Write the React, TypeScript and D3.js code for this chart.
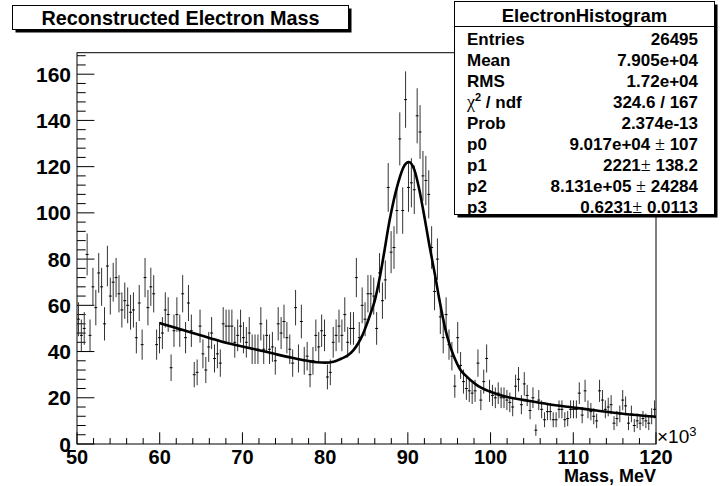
import React from "react";
import * as d3 from "d3";

// ---- data ----
const histLow = 50; // x10^3 MeV
const histBinWidth = 0.35;
const binContents: number[] = [
  54, 47, 50, 82, 47, 68, 59, 74, 68, 52,
  77, 64, 70, 72, 65, 58, 62, 60, 57, 58,
  46, 61, 43, 72, 59, 68, 65, 43, 46, 48,
  58, 56, 33, 49, 56, 49, 65, 46, 61, 49,
  30, 31, 51, 39, 32, 42, 48, 37, 39, 35,
  52, 51, 51, 51, 44, 47, 51, 46, 44, 48,
  41, 41, 41, 52, 41, 47, 41, 42, 36, 52,
  48, 53, 46, 41, 35, 59, 37, 53, 36, 38,
  30, 36, 47, 42, 49, 47, 29, 31, 44, 47,
  51, 47, 56, 44, 50, 50, 72, 46, 60, 54,
  65, 65, 64, 50, 74, 62, 71, 111, 83, 85,
  101, 132, 101, 149, 111, 113, 110, 142, 135, 116,
  114, 108, 85, 66, 80, 55, 46, 56, 43, 38,
  25, 46, 34, 27, 24, 23, 22, 23, 35, 19,
  27, 37, 23, 21, 20, 22, 20, 20, 19, 18,
  16, 25, 28, 17, 26, 21, 14.5, 20, 6, 19,
  15, 10.5, 14, 14, 10.5, 10.5, 15, 15, 10.5, 11,
  15, 15, 15, 22, 12.5, 23, 15, 14, 12, 10,
  23, 19, 15, 16, 17, 9, 11, 13, 19, 16.5,
  9, 13, 8, 10, 9, 11, 10, 9, 12, 15,
];

const fitX: number[] = [
  60.0, 62, 64, 66, 68, 70, 72, 74, 76, 78, 79, 80, 81, 82, 82.8, 83.4, 84.0,
  84.5, 85.0, 85.5, 86.0, 86.6, 87.0, 87.8, 88.8, 89.6, 90.1, 90.8, 91.4, 92.0,
  92.6, 93.25, 93.86, 94.46, 95.0, 95.5, 96.35, 96.9, 98.3, 99.9, 102, 103.9,
  107, 110, 113, 116, 120,
];
const fitY: number[] = [
  52.3, 50.2, 48.0, 45.9, 43.8, 42.2, 40.6, 38.9, 37.3, 35.9, 35.4, 35.2, 35.6,
  37.0, 38.5, 40.5, 43.6, 47.0, 51.5, 56.5, 62, 72, 80, 96.9, 112.7, 120.6,
  122.0, 118.5, 109.8, 98.3, 86, 73.8, 61.5, 50.8, 43.5, 38.5, 32.1, 29.9, 25.6,
  22.7, 20.3, 19.1, 17.2, 15.8, 14.4, 13.1, 11.8,
];

const xTickValues: number[] = [50, 60, 70, 80, 90, 100, 110, 120];
const yTickValues: number[] = [0, 20, 40, 60, 80, 100, 120, 140, 160];

const titleText = "Reconstructed Electron Mass";
const statsTitle = "ElectronHistogram";
const statLabels: string[] = ["Entries", "Mean", "RMS", "chi2", "Prob", "p0", "p1", "p2", "p3"];
const statValues: string[] = ["26495", "7.905e+04", "1.72e+04", "324.6 / 167", "2.374e-13", "9.017e+04 ", "2221", "8.131e+05 ", "0.6231"];
const statErrors: string[] = ["", "", "", "", "", "107", "138.2", "24284", "0.0113"];
const xAxisTitle = "Mass, MeV";

export default function App() {
  const W = 722;
  const H = 486;
  const x = d3.scaleLinear().domain([50, 120]).range([77, 656]);
  const y = d3.scaleLinear().domain([0, 169.3]).range([444, 52.7]);
  const fL = 77, fR = 656, fT = 52.7, fB = 444;

  const font = "'Liberation Sans', Arial, Helvetica, sans-serif";

  const xMinor = d3.range(50, 120.01, 2);
  const yMinor = d3.range(0, 169, 4);

  const line = d3
    .line<number>()
    .x((_, i) => x(fitX[i]))
    .y((d) => y(d))
    .curve(d3.curveMonotoneX);

  const rowBase = [45, 66, 87, 108, 129, 150, 171, 192, 213];

  return (
    <svg
      width={W}
      height={H}
      viewBox={`0 0 ${W} ${H}`}
      style={{ position: "absolute", left: 0, top: 0, background: "#fff" }}
    >
      <rect x={0} y={0} width={W} height={H} fill="#fff" />

      {/* frame */}
      <rect x={fL} y={fT} width={fR - fL} height={fB - fT} fill="none" stroke="#000" strokeWidth={1} />

      {/* y ticks */}
      {yMinor.map((v) => {
        const major = v % 20 === 0;
        return (
          <line key={"ym" + v} x1={fL} x2={fL + (major ? 17.4 : 8.7)} y1={y(v)} y2={y(v)} stroke="#000" strokeWidth={1} />
        );
      })}
      {/* x ticks */}
      {xMinor.map((v) => {
        const major = Math.abs(v % 10) < 1e-6;
        return (
          <line key={"xm" + v} x1={x(v)} x2={x(v)} y1={fB} y2={fB - (major ? 11.7 : 5.9)} stroke="#000" strokeWidth={1} />
        );
      })}

      {/* histogram error bars */}
      <g>
        {binContents.map((v, i) => {
          const lo = histLow + i * histBinWidth;
          const hi = lo + histBinWidth;
          const c = (lo + hi) / 2;
          const e = Math.sqrt(v);
          return (
            <g key={"b" + i}>
              <line x1={x(c)} x2={x(c)} y1={y(Math.max(0, v - e))} y2={y(v + e)} stroke="#333" strokeWidth={1} />
              <line x1={x(lo)} x2={x(hi)} y1={y(v)} y2={y(v)} stroke="#000" strokeWidth={1} />
            </g>
          );
        })}
      </g>

      {/* fit */}
      <path d={line(fitY) || ""} fill="none" stroke="#000" strokeWidth={2.6} strokeLinejoin="round" />

      {/* y tick labels */}
      {yTickValues.map((v) => (
        <text key={"yl" + v} x={71} y={y(v) + 7.5} textAnchor="end" fontFamily={font} fontWeight="bold" fontSize={21}>
          {v}
        </text>
      ))}
      {/* x tick labels */}
      {xTickValues.map((v) => (
        <text key={"xl" + v} x={x(v)} y={464} textAnchor="middle" fontFamily={font} fontWeight="bold" fontSize={20}>
          {v}
        </text>
      ))}
      <text x={fR} y={482} textAnchor="end" fontFamily={font} fontWeight="bold" fontSize={18}>
        {xAxisTitle}
      </text>
      <text x={657} y={443} fontFamily={font} fontSize={19}>
        ×10
        <tspan dy={-7} fontSize={13}>3</tspan>
      </text>

      {/* title box */}
      <rect x={15.5} y={8.5} width={336} height={24} fill="#000" />
      <rect x={12.5} y={5.5} width={336} height={24} fill="#fff" stroke="#000" strokeWidth={1} />
      <text x={180.5} y={24.5} textAnchor="middle" fontFamily={font} fontWeight="bold" fontSize={19.8}>
        {titleText}
      </text>

      {/* stats box */}
      <rect x={457.5} y={4.5} width={260} height={213} fill="#000" />
      <rect x={454.5} y={1.5} width={260} height={213} fill="#fff" stroke="#000" strokeWidth={1} />
      <line x1={454.5} x2={714.5} y1={26.5} y2={26.5} stroke="#000" strokeWidth={1} />
      <text x={584.5} y={21.5} textAnchor="middle" fontFamily={font} fontWeight="bold" fontSize={18.5}>
        {statsTitle}
      </text>
      {statLabels.map((lab, i) => (
        <g key={"s" + i}>
          {lab === "chi2" ? (
            <text x={467} y={rowBase[i]} fontFamily={font} fontWeight="bold" fontSize={17}>
              <tspan fontFamily="'Liberation Serif', serif" fontWeight="normal" fontSize={18}>χ</tspan>
              <tspan dy={-7} fontSize={11}>2</tspan>
              <tspan dy={7}> / ndf</tspan>
            </text>
          ) : (
            <text x={467} y={rowBase[i]} fontFamily={font} fontWeight="bold" fontSize={17}>
              {lab}
            </text>
          )}
          <text x={698} y={rowBase[i]} textAnchor="end" fontFamily={font} fontWeight="bold" fontSize={17}>
            {statValues[i]}
            {statErrors[i] !== "" && (
              <>
                <tspan fontFamily="'Liberation Serif', serif" fontWeight="normal" fontSize={18}>±</tspan>
                <tspan> {statErrors[i]}</tspan>
              </>
            )}
          </text>
        </g>
      ))}
    </svg>
  );
}
